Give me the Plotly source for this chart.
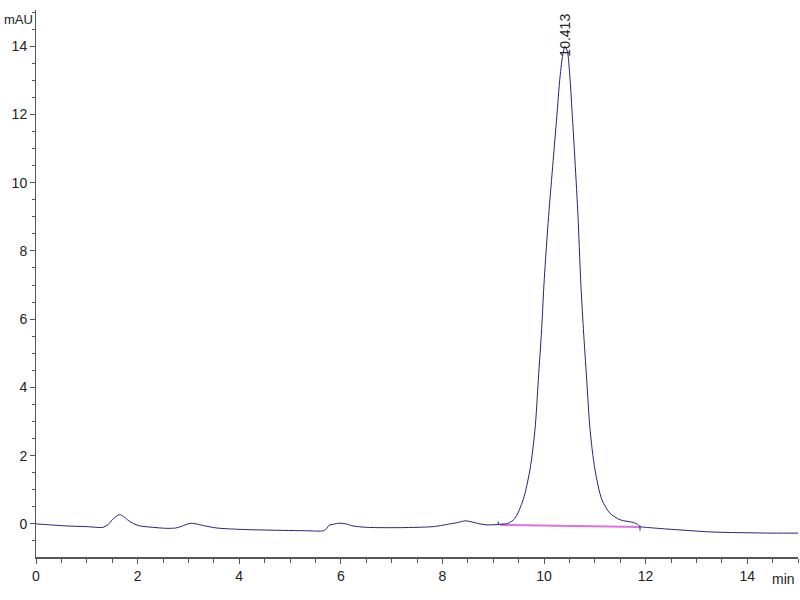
import plotly.graph_objects as go

# Chromatogram signal (time in min, absorbance in mAU)
time_min = [0.0, 0.3, 0.6, 1.0, 1.32, 1.42, 1.5, 1.58, 1.65, 1.72, 1.8, 1.9, 2.05, 2.3,
            2.57, 2.75, 2.85, 2.95, 3.05, 3.15, 3.3, 3.56, 4.02, 4.5, 4.87, 5.3, 5.66,
            5.72, 5.77, 5.85, 5.98, 6.1, 6.24, 6.5, 6.8, 7.17, 7.5, 7.82, 8.0, 8.15, 8.3,
            8.45, 8.6, 8.74, 8.9, 9.13, 9.3, 9.43, 9.59, 9.724, 9.823, 9.889, 9.954,
            10.006, 10.09, 10.18, 10.25, 10.315, 10.37, 10.413, 10.46, 10.51, 10.56,
            10.61, 10.67, 10.72, 10.775, 10.84, 10.906, 11.004, 11.14, 11.3, 11.5,
            11.76, 11.86, 11.89, 12.0, 12.42, 12.8, 13.2, 13.6, 14.0, 14.5, 15.0]
signal_mau = [0.0, -0.03, -0.06, -0.08, -0.1, -0.02, 0.12, 0.22, 0.27, 0.22, 0.12, 0.02,
              -0.06, -0.1, -0.13, -0.12, -0.08, -0.02, 0.02, 0.0, -0.05, -0.12, -0.16,
              -0.18, -0.19, -0.2, -0.2, -0.14, -0.04, -0.01, 0.02, 0.0, -0.06, -0.1,
              -0.11, -0.11, -0.1, -0.08, -0.04, 0.0, 0.04, 0.09, 0.05, 0.0, -0.03, -0.01,
              0.02, 0.17, 0.71, 1.59, 2.77, 4.24, 5.72, 7.19, 9.0, 10.64, 11.9, 13.09,
              13.75, 14.0, 13.85, 13.09, 11.9, 10.64, 9.0, 7.19, 5.72, 4.24, 2.77, 1.59,
              0.71, 0.31, 0.12, 0.04, -0.03, -0.08, -0.1, -0.15, -0.19, -0.23, -0.25,
              -0.26, -0.27, -0.27]

# Integration baseline of the main peak
baseline_t = [9.13, 11.89]
baseline_v = [-0.03, -0.09]

# Integration start / end markers
peak_start_t = [9.1, 9.1]
peak_start_v = [-0.03, 0.07]
peak_end_t = [11.89, 11.89]
peak_end_v = [-0.05, -0.2]

peak_label = "10.413"
peak_rt = 10.413
peak_height = 14.0

x_ticks = [0, 2, 4, 6, 8, 10, 12, 14]
y_ticks = [0, 2, 4, 6, 8, 10, 12, 14]

FONT = "Liberation Sans Narrow, Liberation Sans, Arial, sans-serif"
AXIS_COL = "#555555"
TEXT_COL = "#222222"

fig = go.Figure()
fig.add_trace(go.Scatter(x=baseline_t, y=baseline_v, mode="lines",
                         line=dict(color="#e070dc", width=2), hoverinfo="skip"))
fig.add_trace(go.Scatter(x=time_min, y=signal_mau, mode="lines",
                         line=dict(color="#23237e", width=1, shape="spline", smoothing=0.8)))
fig.add_trace(go.Scatter(x=peak_start_t, y=peak_start_v, mode="lines",
                         line=dict(color="#23237e", width=1), hoverinfo="skip"))
fig.add_trace(go.Scatter(x=peak_end_t, y=peak_end_v, mode="lines",
                         line=dict(color="#23237e", width=1), hoverinfo="skip"))

fig.add_annotation(x=peak_rt, y=peak_height, text=peak_label, showarrow=False,
                   textangle=-90, xanchor="center", yanchor="bottom", yshift=-12,
                   font=dict(family=FONT, size=14, color=TEXT_COL))
fig.add_annotation(xref="paper", yref="paper", x=0, y=1, text="mAU", showarrow=False,
                   xanchor="left", yanchor="top", xshift=-34, yshift=0,
                   font=dict(family=FONT, size=13, color=TEXT_COL))
fig.add_annotation(xref="paper", yref="paper", x=1, y=0, text="min", showarrow=False,
                   xanchor="right", yanchor="top", yshift=-12, xshift=-1,
                   font=dict(family=FONT, size=14, color=TEXT_COL))

fig.update_layout(
    width=800, height=600,
    margin=dict(l=36, r=2, t=10, b=43),
    paper_bgcolor="white", plot_bgcolor="white",
    showlegend=False,
    font=dict(family=FONT, size=14, color=TEXT_COL),
    xaxis=dict(range=[0, 15], tickvals=x_ticks, showgrid=False, zeroline=False,
               automargin=False,
               showline=True, linecolor=AXIS_COL, linewidth=2,
               ticks="outside", ticklen=5, tickcolor=AXIS_COL, tickwidth=1,
               minor=dict(dtick=0.5, ticks="outside", ticklen=4, tickcolor=AXIS_COL),
               tickfont=dict(family=FONT, size=14, color=TEXT_COL)),
    yaxis=dict(range=[-0.97, 15.06], tickvals=y_ticks, showgrid=False, zeroline=False,
               automargin=False,
               showline=True, linecolor=AXIS_COL, linewidth=1,
               ticks="outside", ticklen=5, tickcolor=AXIS_COL, tickwidth=1,
               minor=dict(dtick=0.5, ticks="outside", ticklen=3, tickcolor=AXIS_COL),
               tickfont=dict(family=FONT, size=14, color=TEXT_COL)),
)

fig.write_html("out.html", config={"displayModeBar": False},
               post_script="document.body.style.margin='0';document.body.style.overflow='hidden';")
